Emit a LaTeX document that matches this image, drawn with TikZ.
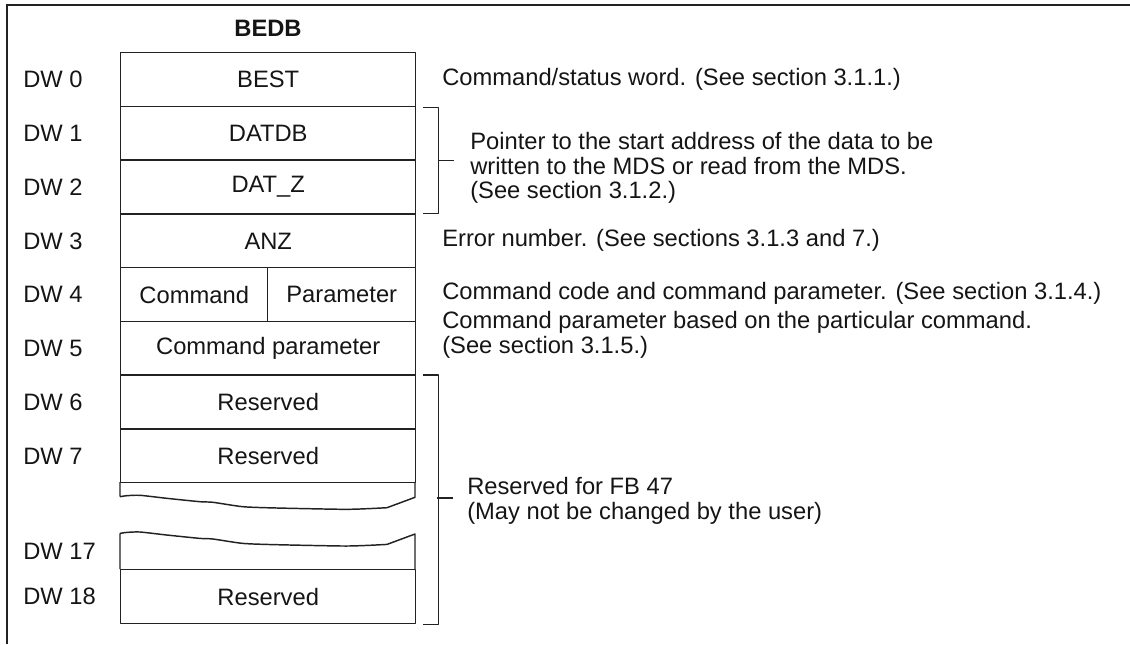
\documentclass[tikz,border=0pt]{standalone}
\usepackage{fontspec}
\setmainfont{Liberation Sans}
\usetikzlibrary{calc}
\definecolor{txt}{HTML}{151515}
\definecolor{ln}{HTML}{222222}
\begin{document}
\begin{tikzpicture}[x=0.75pt,y=-0.75pt,
  every node/.style={font=\fontsize{17.8}{18.5}\selectfont, text=txt, inner sep=0pt},
  rule/.style={draw=ln, line width=1.1pt, line join=round},
  frame/.style={draw=ln, line width=1.5pt},
  cell/.style={rule, minimum width=221.25pt, minimum height=40.3pt, anchor=north west},
  halfcell/.style={rule, minimum height=40.3pt, anchor=north west},
  dwlabel/.style={anchor=west},
  note/.style={anchor=west, align=left}]
\useasboundingbox (0,0) rectangle (1130,644);

% outer frame (top and left edges)
\draw[frame] (7,644) -- (7,5) -- (1130,5);

% block title
\node[font=\fontsize{17.8}{18.5}\selectfont\bfseries] (title) at (268,28) {BEDB};

% data words
\node[cell] (b0) at (120,52)     {BEST};
\node[cell] (b1) at (120,105.75) {DATDB};
\node[cell] (b2) at (120,159.5)  {DAT\_Z};
\node[cell] (b3) at (120,213.25) {ANZ};
\node[halfcell, minimum width=110.25pt] (b4a) at (120,267) {Command};
\node[halfcell, minimum width=111pt]    (b4b) at (267,267) {Parameter};
\node[cell] (b5) at (120,320.75) {Command parameter};
\node[cell] (b6) at (120,374.5)  {Reserved};
\node[cell] (b7) at (120,428.25) {Reserved};
\node[cell] (b18) at (120,569)   {Reserved};

% interrupted area between DW 7 and DW 17
\coordinate (brkTL) at (120,482);
\coordinate (brkTR) at (415,482);
\coordinate (brkBL) at (120,569);
\coordinate (brkBR) at (415,569);
\draw[rule] (brkTL) -- (120,496.7)
  plot[smooth,tension=0.4] coordinates {(120,496.7) (126.7,495.7) (140,495.3) (166.7,498.3) (200,501.7) (213,502.3) (243,506.7) (277,508) (343,509.3) (367,508.7) (387,507.7)}
  -- (415,497.3) -- (brkTR);
\draw[rule] (brkBL) -- (120,533.4)
  plot[smooth,tension=0.4] coordinates {(120,533.4) (126.7,532.4) (140,532) (166.7,535) (200,538.4) (213,539) (243,543.4) (277,544.7) (343,546) (367,545.4) (387,544.4)}
  -- (415,534) -- (brkBR);

% word numbers
\coordinate (lx) at (23,0);
\node[dwlabel] (d0)  at (lx |- b0.center)  {DW 0};
\node[dwlabel] (d1)  at (lx |- b1.center)  {DW 1};
\node[dwlabel] (d2)  at (lx |- b2.center)  {DW 2};
\node[dwlabel] (d3)  at (lx |- b3.center)  {DW 3};
\node[dwlabel] (d4)  at (lx |- b4a.center) {DW 4};
\node[dwlabel] (d5)  at (lx |- b5.center)  {DW 5};
\node[dwlabel] (d6)  at (lx |- b6.center)  {DW 6};
\node[dwlabel] (d7)  at (lx |- b7.center)  {DW 7};
\node[dwlabel] (d17) at (23,551)           {DW 17};
\node[dwlabel] (d18) at (lx |- b18.center) {DW 18};

% descriptions
\node[note] (n0) at (442,79)  {Command/status word. (See section 3.1.1.)};
\node[note] (n1) at (470,168) {Pointer to the start address of the data to be\\written to the MDS or read from the MDS.\\(See section 3.1.2.)};
\node[note] (n3) at (442,240) {Error number. (See sections 3.1.3 and 7.)};
\node[note] (n4) at (442,293) {Command code and command parameter. (See section 3.1.4.)};
\node[note] (n5) at (442,335) {Command parameter based on the particular command.\\(See section 3.1.5.)};
\node[note] (n6) at (467,501) {Reserved for FB 47\\(May not be changed by the user)};

% brackets
\coordinate (k1t) at ($(b1.north east)+(7,2)$);
\coordinate (k1b) at ($(b2.south east)+(7,-1)$);
\draw[rule] (k1t) -- ++(15,0) |- (k1b);
\draw[rule] ($(k1t)!0.5!(k1b)+(15,0)$) -- ++(16,0);
\coordinate (k2t) at ($(b6.north east)+(7,0.5)$);
\coordinate (k2b) at ($(b18.south east)+(7,0.3)$);
\draw[rule] (k2t) -- ++(15,0) |- (k2b);
\draw[rule] (437,498) -- ++(16,0);
\end{tikzpicture}
\end{document}
